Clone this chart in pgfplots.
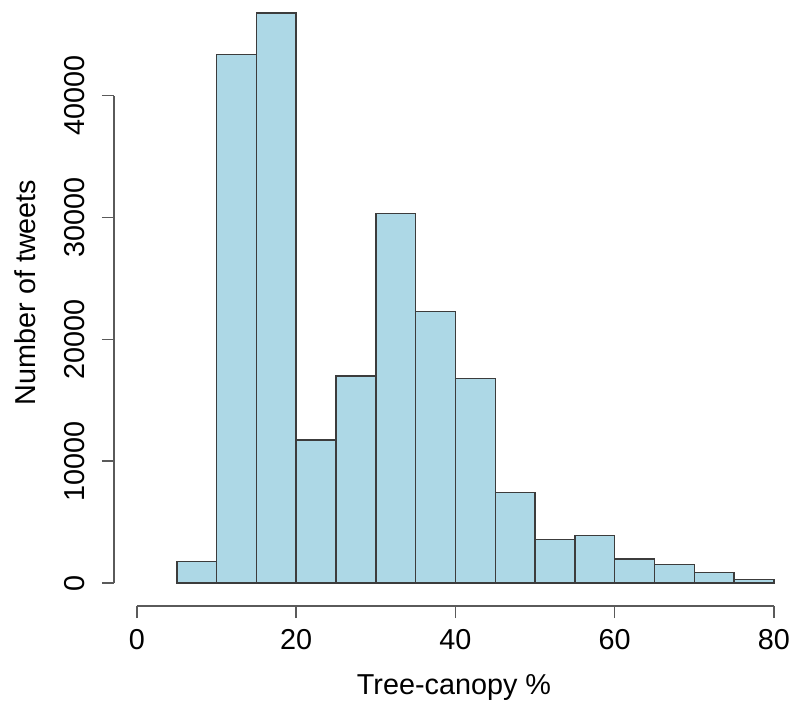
\documentclass[border=0pt]{standalone}
\usepackage{pgfplots}
\pgfplotsset{compat=1.18}
\usepackage{fontspec}
\setmainfont{Liberation Sans}
\definecolor{barfill}{HTML}{ADD8E6}
\definecolor{baredge}{HTML}{3C3C3C}
\definecolor{axgray}{HTML}{5A5A5A}
\begin{document}
\begin{tikzpicture}
\useasboundingbox (-68.5pt,-60pt) rectangle (327pt,291.5pt);
\begin{axis}[
  anchor=origin, at={(0pt,0pt)},
  scale only axis, width=338.0pt, height=303pt,
  xmin=-2.9, xmax=82, ymin=-1887.2, ymax=47835.9,
  clip=false,
  axis x line*=bottom, axis y line*=left,
  axis line style={draw=none},
  tick align=outside, major tick length=6pt,
  every tick/.style={axgray, line width=0.75pt},
  xtick={0,20,40,60,80},
  ytick={0,10000,20000,30000,40000},
  scaled ticks=false,
  /pgf/number format/set thousands separator={},
  /pgf/number format/assume math mode=true,
  tick label style={font=\fontsize{14.4}{17}\selectfont},
  label style={font=\fontsize{14.4}{17}\selectfont},
  xticklabel style={anchor=base, yshift=-15.65pt},
  yticklabel style={xshift=-8.75pt, rotate=90, anchor=base},
  xlabel={Tree-canopy \%},
  ylabel={Number of tweets},
  xlabel style={at={(axis description cs:0.5031,-0.1452)}, anchor=base},
  ylabel style={at={(axis description cs:-0.1154,0.5173)}, anchor=base},
]
\addplot[ybar interval, fill=barfill, draw=baredge, line width=0.75pt] coordinates {
  (5,1782) (10,43383) (15,46749) (20,11716) (25,16995) (30,30328)
  (35,22282) (40,16782) (45,7422) (50,3588) (55,3916) (60,1970)
  (65,1511) (70,880) (75,304) (80,304)
};
\draw[axgray, line width=0.75pt] (axis cs:0,-1887.2) -- (axis cs:80,-1887.2);
\draw[axgray, line width=0.75pt] (axis cs:-2.9,0) -- (axis cs:-2.9,40000);
\end{axis}
\end{tikzpicture}
\end{document}
